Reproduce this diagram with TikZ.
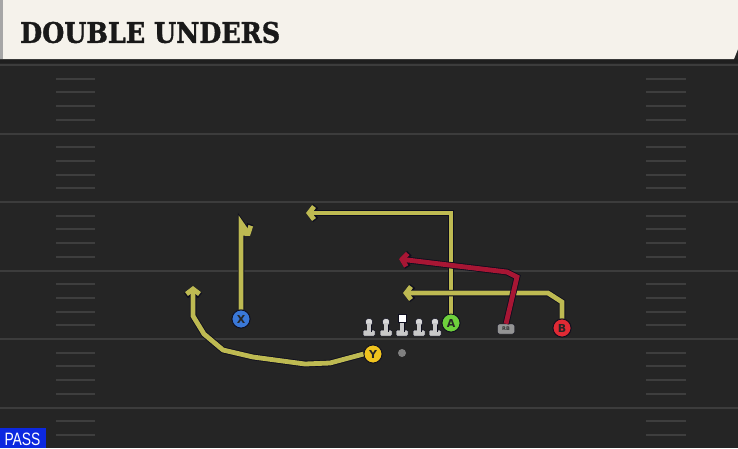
\documentclass[tikz,border=0pt]{standalone}
\usepackage{fontspec}
\usepackage{graphicx}
\setmainfont{DejaVu Sans}
\newfontfamily\titlefont{DejaVu Serif}[BoldFeatures={FakeBold=1.5}]
\newfontfamily\passfont{Liberation Sans}
\usetikzlibrary{arrows.meta}
\definecolor{field}{RGB}{37,37,37}
\definecolor{hdr}{RGB}{245,242,235}
\definecolor{yard}{RGB}{60,60,60}
\definecolor{hash}{RGB}{62,62,62}
\definecolor{routeY}{RGB}{190,186,82}
\definecolor{routeR}{RGB}{168,22,52}
\definecolor{outl}{RGB}{14,14,30}
\definecolor{pblue}{RGB}{58,120,216}
\definecolor{pyellow}{RGB}{240,196,30}
\definecolor{pgreen}{RGB}{110,208,60}
\definecolor{pred}{RGB}{224,42,52}
\definecolor{passblue}{RGB}{12,40,224}
\definecolor{lman}{RGB}{200,200,200}
\tikzset{
  yardline/.style={yard, line width=2pt},
  hashmark/.style={hash, line width=2pt},
  routeout/.style={outl, line width=6.5pt, line join=miter, -{Straight Barb[length=5.5pt,width=14pt]}},
  routey/.style={routeY, line width=4.8pt, line join=miter, -{Straight Barb[length=5pt,width=13pt]}},
  router/.style={routeR, line width=4.8pt, line join=miter, -{Straight Barb[length=5pt,width=13pt]}},
  player/.style={circle, draw=outl, line width=0.8pt, minimum size=18pt, inner sep=0pt,
    font=\bfseries\fontsize{11}{11}\selectfont, text=black!85},
  lineman/.pic={
    \fill[lman, draw=outl, line width=0.5pt, rounded corners=1pt] (-6,3) rectangle (6,9);
    \fill[lman, draw=outl, line width=0.5pt] (-2.2,-5) rectangle (2.2,4);
    \fill[lman!70!white, draw=outl, line width=0.5pt] (0,-5) circle (3.8);
    \fill[lman] (-1.8,-4) rectangle (1.8,4.5);
  },
  centerman/.pic={
    \fill[lman, draw=outl, line width=0.5pt, rounded corners=1pt] (-6,3) rectangle (6,9);
    \fill[lman, draw=outl, line width=0.5pt] (-2.2,-5) rectangle (2.2,4);
    \fill[white, draw=outl, line width=0.5pt] (-4,-13) rectangle (4,-5);
    \fill[lman] (-1.8,-4.5) rectangle (1.8,4.5);
  }
}
\begin{document}
\begin{tikzpicture}[x=1pt,y=-1pt]
\useasboundingbox (0,0) rectangle (738,448);
% field
\fill[field] (0,0) rectangle (738,448);
\fill[black!88] (0,59) rectangle (738,63);
% yard lines
\foreach \yy in {65,133.5,202,270.5,339,407.5}
  \draw[yardline] (0,\yy) -- (738,\yy);
% hash marks
\foreach \k in {1,...,27}{
  \pgfmathtruncatemacro{\m}{mod(\k,5)}
  \ifnum\m>0
    \draw[hashmark] (56,65+\k*13.7) -- (95,65+\k*13.7);
    \draw[hashmark] (646,65+\k*13.7) -- (686,65+\k*13.7);
  \fi
}
% header
\fill[hdr] (0,0) -- (738,0) -- (738,49) -- (734,59) -- (0,59) -- cycle;
\fill[black!35] (0,0) rectangle (3,59);
\node[anchor=west, inner sep=0pt, text=black!90] (title) at (20,32.5)
  {\resizebox{260pt}{21pt}{\titlefont\bfseries DOUBLE UNDERS}};
% PASS label
\fill[passblue] (0,428) rectangle (46,448);
\node[inner sep=0pt, text=white] (pass) at (22.5,439)
  {\resizebox{36pt}{12.5pt}{\passfont PASS}};
% ball
\fill[black!50] (402,353) circle (4);
% line
\pic at (369,327) {lineman};
\pic at (386,327) {lineman};
\pic at (402,327) {centerman};
\pic at (419,327) {lineman};
\pic at (435,327) {lineman};
% players
\node[player, fill=pblue] (X) at (241,319) {X};
\node[player, fill=pyellow] (Y) at (373,354) {Y};
\node[player, fill=pgreen] (A) at (451,323) {A};
\node[player, fill=pred] (B) at (562,328) {B};
\node[draw=outl, fill=black!42, rounded corners=2pt, minimum width=17pt, minimum height=10pt,
  inner sep=0pt, font=\bfseries\fontsize{5}{5}\selectfont, text=black!80] (RB) at (506,329) {RB};
% route end coordinates
\coordinate (xe) at (250,236);
\coordinate (ye) at (193,286);
\coordinate (ae) at (306,213);
\coordinate (be) at (403,293);
\coordinate (re) at (399,259);
% routes
\draw[routeout] (X.north) -- (241,223) -- (xe);
\draw[routey] (X.north) -- (241,223) -- (xe);
\draw[routeout] (Y.west) -- (330,363) -- (305,364) -- (253,357) -- (223,350) -- (204,334) -- (193,316) -- (ye);
\draw[routey] (Y.west) -- (330,363) -- (305,364) -- (253,357) -- (223,350) -- (204,334) -- (193,316) -- (ye);
\draw[routeout] (A.north) -- (451,213) -- (ae);
\draw[routey] (A.north) -- (451,213) -- (ae);
\draw[routeout] (B.north) -- (562,302) -- (548,293) -- (be);
\draw[routey] (B.north) -- (562,302) -- (548,293) -- (be);
\draw[routeout] (RB.north) -- (517,277) -- (507,272) -- (re);
\draw[router] (RB.north) -- (517,277) -- (507,272) -- (re);
% redraw players on top
\node[player, fill=pblue] at (X) {X};
\node[player, fill=pgreen] at (A) {A};
\node[player, fill=pred] at (B) {B};
\node[player, fill=pyellow] at (Y) {Y};
\end{tikzpicture}
\end{document}
